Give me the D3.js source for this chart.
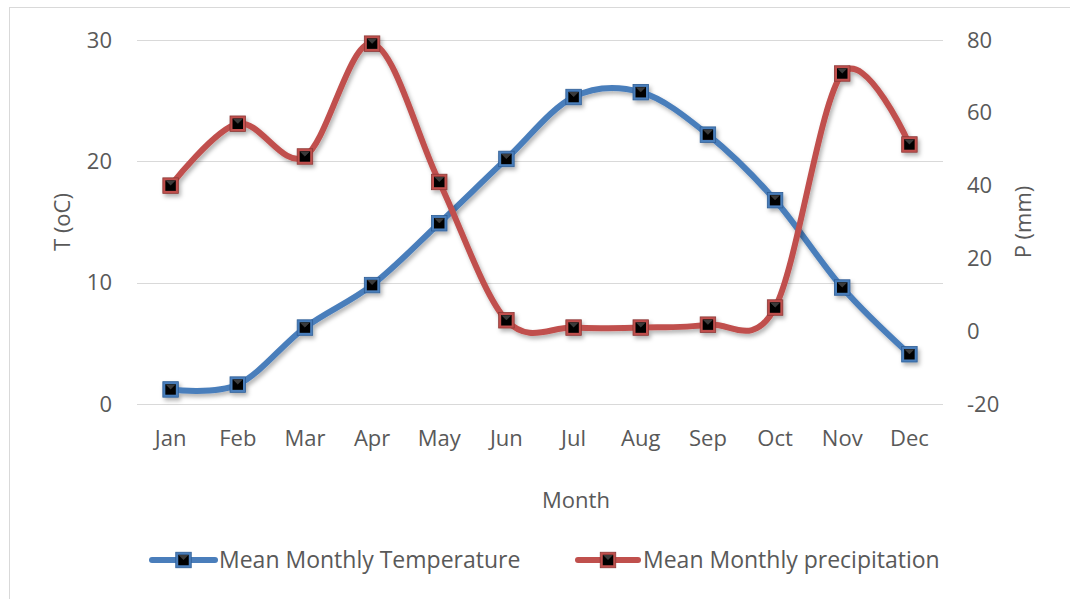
<!DOCTYPE html>
<html>
<head>
<meta charset="utf-8">
<script src="https://cdn.jsdelivr.net/npm/d3@7"></script>
<style>
  html, body { margin: 0; padding: 0; background: #fff; }
  svg { display: block; }
  text { font-family: "Open Sans", "Liberation Sans", sans-serif; fill: #595959; }
</style>
</head>
<body>
<svg id="chart" width="1070" height="599"></svg>
<script>
const months = ["Jan","Feb","Mar","Apr","May","Jun","Jul","Aug","Sep","Oct","Nov","Dec"];
const temperature = [1.2, 1.6, 6.3, 9.8, 14.9, 20.2, 25.3, 25.7, 22.2, 16.8, 9.6, 4.1];
const precipitation = [40, 57, 48, 79, 41, 3, 1, 1, 1.8, 6.5, 70.8, 51.3];
const leftTicks = [0, 10, 20, 30];
const rightTicks = [-20, 0, 20, 40, 60, 80];
const seriesNames = ["Mean Monthly Temperature", "Mean Monthly precipitation"];
const colors = ["#4A7EBB", "#C0504D"];
const borderColors = ["#2F5E96", "#8C3836"];

const svg = d3.select("#chart");
const plot = { left: 137, right: 943, top: 40, bottom: 404 };

// chart border (left & top visible)
svg.append("line").attr("x1", 9.5).attr("x2", 9.5).attr("y1", 7).attr("y2", 599)
  .attr("stroke", "#d9d9d9").attr("stroke-width", 1);
svg.append("line").attr("x1", 9).attr("x2", 1070).attr("y1", 7.5).attr("y2", 7.5)
  .attr("stroke", "#d9d9d9").attr("stroke-width", 1);

const defs = svg.append("defs");
const f = defs.append("filter").attr("id", "shadow").attr("x", "-20%").attr("y", "-20%").attr("width", "140%").attr("height", "140%");
f.append("feDropShadow").attr("dx", 2).attr("dy", 3).attr("stdDeviation", 2).attr("flood-color", "#000").attr("flood-opacity", 0.3);

const x = d3.scaleBand().domain(months).range([plot.left, plot.right]);
const yL = d3.scaleLinear().domain([0, 30]).range([plot.bottom, plot.top]);
const yR = d3.scaleLinear().domain([-20, 80]).range([plot.bottom, plot.top]);

// gridlines
svg.append("g").selectAll("line").data(leftTicks).join("line")
  .attr("x1", plot.left).attr("x2", plot.right)
  .attr("y1", d => Math.round(yL(d)) + 0.5).attr("y2", d => Math.round(yL(d)) + 0.5)
  .attr("stroke", "#d9d9d9").attr("stroke-width", 1.2);

// left axis
const axL = svg.append("g").attr("transform", `translate(${plot.left},0)`)
  .call(d3.axisLeft(yL).tickValues(leftTicks).tickFormat(d => String(d)).tickSize(0).tickPadding(25));
axL.select(".domain").remove();
axL.selectAll("text").style("font-size", "22px").attr("fill", "#595959");

// right axis
const axR = svg.append("g").attr("transform", `translate(${plot.right},0)`)
  .call(d3.axisRight(yR).tickValues(rightTicks).tickFormat(d => String(d)).tickSize(0).tickPadding(24));
axR.select(".domain").remove();
axR.selectAll("text").style("font-size", "22px").attr("fill", "#595959");

// bottom axis
const axB = svg.append("g").attr("transform", `translate(0,${plot.bottom})`)
  .call(d3.axisBottom(x).tickSize(0).tickPadding(26));
axB.select(".domain").remove();
axB.selectAll("text").style("font-size", "22px").attr("fill", "#595959");

// axis titles
svg.append("text").attr("transform", "translate(70,222) rotate(-90)")
  .attr("text-anchor", "middle").style("font-size", "22px").text("T (oC)");
svg.append("text").attr("transform", "translate(1031,222) rotate(-90)")
  .attr("text-anchor", "middle").style("font-size", "22px").text("P (mm)");
svg.append("text").attr("x", 576).attr("y", 508)
  .attr("text-anchor", "middle").style("font-size", "22px").text("Month");

const cx = d => x(d) + x.bandwidth() / 2;

function drawSeries(values, yScale, i) {
  const g = svg.append("g").attr("filter", "url(#shadow)");
  const line = d3.line().x((d, j) => cx(months[j])).y(d => yScale(d)).curve(d3.curveCardinal.tension(0));
  g.append("path").datum(values).attr("d", line)
    .attr("fill", "none").attr("stroke", colors[i]).attr("stroke-width", 6).attr("stroke-linecap", "round");
  drawMarkers(g, values.map((v, j) => [cx(months[j]), yScale(v)]), i);
}

function drawMarkers(g, pts, i) {
  const s = 13;
  const m = g.selectAll("g.mk" + i).data(pts).join("g").attr("transform", d => `translate(${d[0]},${d[1]})`);
  m.append("rect").attr("x", -s / 2).attr("y", -s / 2).attr("width", s).attr("height", s)
    .attr("fill", "#000").attr("stroke", colors[i]).attr("stroke-width", 2.5);
  m.append("rect").attr("x", -s / 2 - 1.25).attr("y", -s / 2 - 1.25).attr("width", s + 2.5).attr("height", s + 2.5)
    .attr("fill", "none").attr("stroke", borderColors[i]).attr("stroke-width", 0.8);
  m.append("path").attr("d", `M${-s/2+1.5},${-s/2+1.5}L0,0L${s/2-1.5},${-s/2+1.5}Z`).attr("fill", "#3a3a3a");
}

drawSeries(temperature, yL, 0);
drawSeries(precipitation, yR, 1);

// legend
const legend = [
  { x1: 152, x2: 215, tx: 219 },
  { x1: 578, x2: 638, tx: 643 }
];
legend.forEach((l, i) => {
  const g = svg.append("g");
  g.append("line").attr("x1", l.x1).attr("x2", l.x2).attr("y1", 560).attr("y2", 560)
    .attr("stroke", colors[i]).attr("stroke-width", 6).attr("stroke-linecap", "round");
  drawMarkers(g, [[(l.x1 + l.x2) / 2, 560]], i);
  g.append("text").attr("x", l.tx).attr("y", 568).style("font-size", "23px").text(seriesNames[i]);
});
</script>
</body>
</html>
